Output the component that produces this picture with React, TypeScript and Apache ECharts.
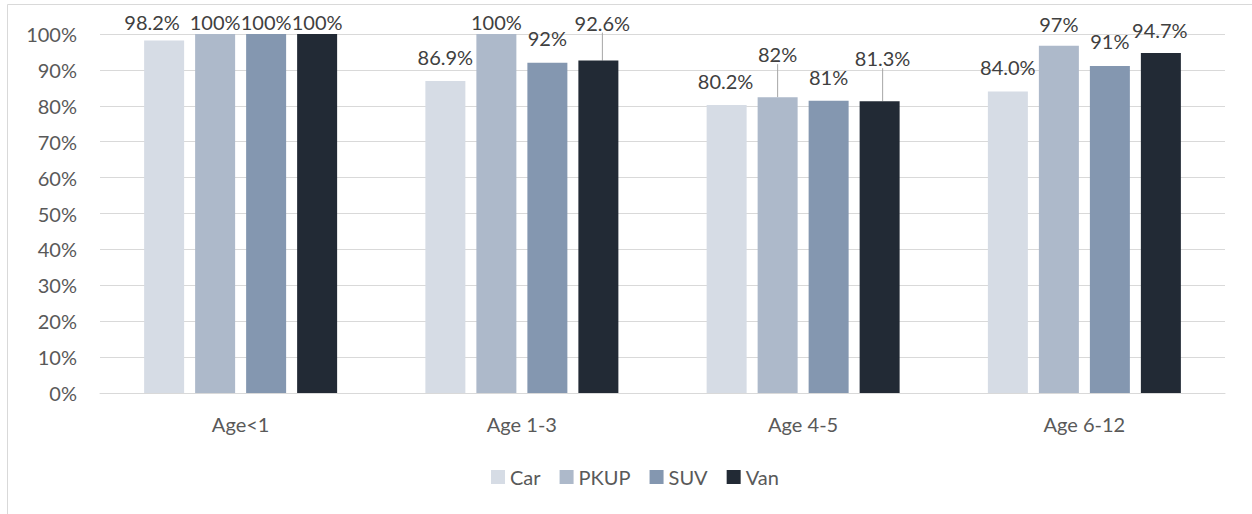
import React, { useEffect, useRef } from "react";
import * as echarts from "echarts";

const categories = ["Age<1", "Age 1-3", "Age 4-5", "Age 6-12"];
const seriesNames = ["Car", "PKUP", "SUV", "Van"];
const carValues = [98.2, 86.9, 80.2, 84.0];
const pkupValues = [100, 100, 82.4, 96.7];
const suvValues = [100, 92.0, 81.4, 91.1];
const vanValues = [100, 92.6, 81.3, 94.7];
const carLabels = ["98.2%", "86.9%", "80.2%", "84.0%"];
const pkupLabels = ["100%", "100%", "82%", "97%"];
const suvLabels = ["100%", "92%", "81%", "91%"];
const vanLabels = ["100%", "92.6%", "81.3%", "94.7%"];
const yTicks = [0, 10, 20, 30, 40, 50, 60, 70, 80, 90, 100];

const colors = ["#D6DCE5", "#ADB9CA", "#8497B0", "#222A35"];
const FONT = "Lato, 'Open Sans', sans-serif";

// label nudges [dx, dy] (px) and which labels carry a leader line
const labelShift = [
  [[-12, -7], [0, -13], [-1, -13], [0, -13]],
  [[0, -1], [0, -1], [0, -32], [0, -11]],
  [[0, -1], [0, -14], [0, -13], [0, -14]],
  [[0, -1], [4, -27], [3, -32], [-1, -12]],
];
const leader = [
  [false, false, false, false],
  [false, false, true, false],
  [false, false, false, false],
  [false, true, true, false],
];

export default function App() {
  const ref = useRef<HTMLDivElement>(null);
  useEffect(() => {
    document.body.style.margin = "0";
    const chart = echarts.init(ref.current!, null, { renderer: "svg" });
    const valueSets = [carValues, pkupValues, suvValues, vanValues];
    const labelSets = [carLabels, pkupLabels, suvLabels, vanLabels];
    const series = seriesNames.map((name, si) => ({
      name,
      type: "bar",
      barWidth: 40,
      barGap: "27.5%",
      itemStyle: { color: colors[si] },
      label: {
        show: true,
        position: "top",
        distance: 1,
        color: "#404040",
        fontFamily: FONT,
        fontSize: 20,
        formatter: (p: any) => labelSets[si][p.dataIndex],
      },
      labelLayout: (p: any) => {
        const o = labelShift[si][p.dataIndex];
        return { dx: o[0], dy: o[1] };
      },
      data: valueSets[si].map((v, i) => ({
        value: v,
        labelLine: leader[si][i]
          ? { show: true, lineStyle: { color: "#A6A6A6", width: 1 } }
          : { show: false },
      })),
    }));
    chart.setOption({
      animation: false,
      textStyle: { fontFamily: FONT },
      graphic: [
        {
          type: "rect",
          silent: true,
          shape: { x: 7.5, y: 4.5, width: 1300, height: 600 },
          style: { fill: "none", stroke: "#D9D9D9", lineWidth: 1 },
        },
      ],
      grid: { left: 100, right: 27, top: 34, bottom: 121 },
      legend: {
        data: seriesNames,
        left: 486,
        top: 462,
        icon: "rect",
        itemWidth: 14,
        itemHeight: 14,
        itemGap: 19,
        textStyle: { color: "#595959", fontSize: 20, fontFamily: FONT },
      },
      xAxis: {
        type: "category",
        data: categories,
        axisLine: { lineStyle: { color: "#D9D9D9" } },
        axisTick: { show: false },
        axisLabel: { color: "#595959", fontSize: 20, fontFamily: FONT, margin: 21 },
      },
      yAxis: {
        type: "value",
        min: yTicks[0],
        max: yTicks[yTicks.length - 1],
        interval: yTicks[1] - yTicks[0],
        axisLine: { show: false },
        axisTick: { show: false },
        splitLine: { lineStyle: { color: "#D9D9D9", width: 1 } },
        axisLabel: {
          color: "#595959",
          fontSize: 20,
          fontFamily: FONT,
          margin: 23,
          formatter: "{value}%",
        },
      },
      series,
    });
    return () => chart.dispose();
  }, []);
  return <div ref={ref} style={{ width: 1252, height: 514 }} />;
}
